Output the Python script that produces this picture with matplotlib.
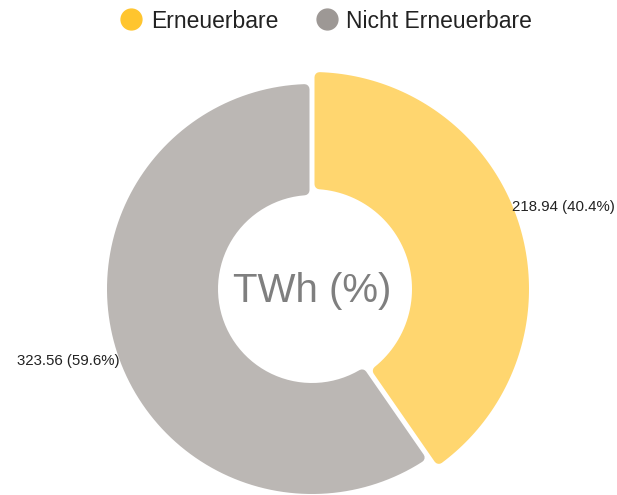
import numpy as np
import matplotlib.pyplot as plt
from matplotlib.patches import Polygon
from matplotlib.lines import Line2D

plt.rcParams['font.family'] = ['Liberation Sans', 'DejaVu Sans']

# data
labels = ["Erneuerbare", "Nicht Erneuerbare"]
values = [218.94, 323.56]
fill_colors = ["#FFD66F", "#BBB7B4"]
legend_colors = ["#FFC52E", "#9D9895"]
outer_r = [217, 205]
inner_r = [100, 94]

DPI = 100
W, H = 617, 495
cx, cy = 312, 289
corner = 5      # corner rounding in px
half_gap = 2.5  # half of the white gap between slices


def pt(a, r):
    # a: degrees clockwise from 12 o'clock, screen coords (y down)
    t = np.radians(a)
    return cx + r * np.sin(t), cy - r * np.cos(t)


def slice_poly(a1, a2, r_in, r_out):
    s = half_gap + corner
    ro = r_out - corner
    ri = r_in + corner
    do = np.degrees(np.arcsin(s / ro))
    di = np.degrees(np.arcsin(s / ri))
    outer = [pt(a, ro) for a in np.linspace(a1 + do, a2 - do, 120)]
    inner = [pt(a, ri) for a in np.linspace(a2 - di, a1 + di, 60)]
    return outer + inner


fig = plt.figure(figsize=(W / DPI, H / DPI), dpi=DPI)
ax = fig.add_axes([0, 0, 1, 1])
ax.set_xlim(0, W)
ax.set_ylim(H, 0)
ax.axis("off")

total = sum(values)
start = 0.0
lw = 2 * corner * 72 / DPI
for val, col, ro, ri in zip(values, fill_colors, outer_r, inner_r):
    end = start + val / total * 360
    poly = Polygon(slice_poly(start, end, ri, ro), closed=True, facecolor=col,
                   edgecolor=col, linewidth=lw, joinstyle="round")
    ax.add_patch(poly)
    start = end

# value labels
pcts = [v / total * 100 for v in values]
mids = []
start = 0.0
for v in values:
    mids.append(start + v / total * 180)
    start += v / total * 360

x0, y0 = pt(mids[0], 217)
ax.text(x0 - 7, y0 - 17, f"{values[0]:.2f} ({pcts[0]:.1f}%)", ha="left", va="center",
        fontsize=10.8, color="#222222")
x1, y1 = pt(mids[1], 217)
ax.text(x1 + 15, y1 + 7, f"{values[1]:.2f} ({pcts[1]:.1f}%)", ha="right", va="center",
        fontsize=10.8, color="#222222")

ax.text(cx, cy + 2, "TWh (%)", ha="center", va="center", fontsize=29, color="#7F7F7F")

handles = [Line2D([], [], marker="o", linestyle="none", markersize=15,
                  markerfacecolor=c, markeredgecolor=c) for c in legend_colors]
fig.legend(handles, labels, loc="center", bbox_to_anchor=(326 / W, 1 - 21 / H), ncol=2,
           frameon=False, fontsize=16.5, handletextpad=0.37, columnspacing=1.6,
           handlelength=1.0, labelcolor="#222222")

fig.savefig("out.png", dpi=DPI)
